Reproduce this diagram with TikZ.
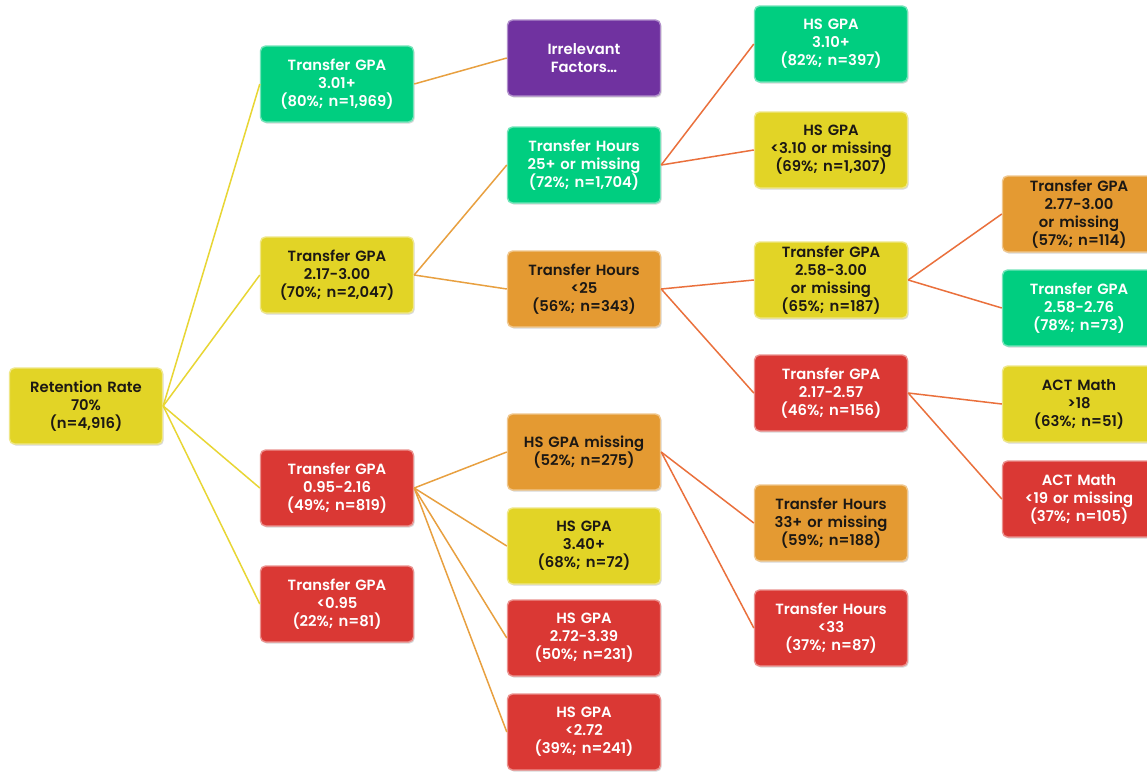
\documentclass[tikz,border=0pt]{standalone}
\usepackage{fontspec}
\newfontfamily\boxfont{Poppins}[UprightFont=* SemiBold, WordSpace=1.4]
\usetikzlibrary{shadows}
\definecolor{cgreen}{RGB}{0,206,128}
\definecolor{cyellow}{RGB}{226,212,38}
\definecolor{corange}{RGB}{228,154,50}
\definecolor{cred}{RGB}{218,56,52}
\definecolor{cpurple}{RGB}{112,50,160}
\definecolor{ctext}{RGB}{28,24,20}
\definecolor{lineA}{RGB}{232,214,52}
\definecolor{lineB}{RGB}{232,160,64}
\definecolor{lineC}{RGB}{234,112,60}
\tikzset{
  box/.style={rounded corners=5pt, minimum width=153pt, minimum height=76pt,
    inner sep=0pt, align=center, font=\boxfont\fontsize{14.8}{18}\selectfont,
    fill=#1, draw=#1!55!white, line width=1.4pt,
    drop shadow={shadow xshift=1.2pt, shadow yshift=-1.5pt, opacity=0.25, fill=black!60}},
  gbox/.style={box=cgreen, text=white},
  ybox/.style={box=cyellow, text=ctext},
  obox/.style={box=corange, text=ctext},
  rbox/.style={box=cred, text=white},
  pbox/.style={box=cpurple, text=white},
  linkA/.style={draw=lineA, line width=1.5pt},
  linkB/.style={draw=lineB, line width=1.5pt},
  linkC/.style={draw=lineC, line width=1.5pt},
}
\begin{document}
\begin{tikzpicture}[x=1pt, y=-1pt]
\useasboundingbox (0,0) rectangle (1147,771);
\clip (0,0) rectangle (1147,771);
\fill[white] (0,0) rectangle (1147,771);

% root
\node[ybox] (root) at (86,406) {Retention Rate\\70\%\\(n=4,916)};

% first split
\node[gbox] (t1) at (337,84)  {Transfer GPA\\3.01+\\(80\%; n=1,969)};
\node[ybox] (t2) at (337,275) {Transfer GPA\\2.17-3.00\\(70\%; n=2,047)};
\node[rbox] (t3) at (337,488) {Transfer GPA\\0.95-2.16\\(49\%; n=819)};
\node[rbox] (t4) at (337,604) {Transfer GPA\\<0.95\\(22\%; n=81)};

% second split
\node[pbox] (irr) at (584,58)  {Irrelevant\\Factors\dots};
\node[gbox] (h1)  at (584,165) {Transfer Hours\\25+ or missing\\(72\%; n=1,704)};
\node[obox] (h2)  at (584,289) {Transfer Hours\\<25\\(56\%; n=343)};
\node[obox] (g1)  at (584,452) {HS GPA missing\\(52\%; n=275)};
\node[ybox] (g2)  at (584,546) {HS GPA\\3.40+\\(68\%; n=72)};
\node[rbox] (g3)  at (584,638) {HS GPA\\2.72-3.39\\(50\%; n=231)};
\node[rbox] (g4)  at (584,732) {HS GPA\\<2.72\\(39\%; n=241)};

% third split
\node[gbox] (s1) at (831,44)  {HS GPA\\3.10+\\(82\%; n=397)};
\node[ybox] (s2) at (831,150) {HS GPA\\<3.10 or missing\\(69\%; n=1,307)};
\node[ybox] (s3) at (831,280) {Transfer GPA\\2.58-3.00\\or missing\\(65\%; n=187)};
\node[rbox] (s4) at (831,393) {Transfer GPA\\2.17-2.57\\(46\%; n=156)};
\node[obox] (s5) at (831,523) {Transfer Hours\\33+ or missing\\(59\%; n=188)};
\node[rbox] (s6) at (831,628) {Transfer Hours\\<33\\(37\%; n=87)};

% fourth split
\node[obox] (f1) at (1079,214) {Transfer GPA\\2.77-3.00\\or missing\\(57\%; n=114)};
\node[gbox] (f2) at (1079,308) {Transfer GPA\\2.58-2.76\\(78\%; n=73)};
\node[ybox] (f3) at (1079,404) {ACT Math\\>18\\(63\%; n=51)};
\node[rbox] (f4) at (1079,499) {ACT Math\\<19 or missing\\(37\%; n=105)};

% connectors
\foreach \c in {t1,t2,t3,t4} \draw[linkA] (root.east) -- (\c.west);
\draw[linkB] (t1.east) -- (irr.west);
\foreach \c in {h1,h2} \draw[linkB] (t2.east) -- (\c.west);
\foreach \c in {g1,g2,g3,g4} \draw[linkB] (t3.east) -- (\c.west);
\foreach \c in {s1,s2} \draw[linkC] (h1.east) -- (\c.west);
\foreach \c in {s3,s4} \draw[linkC] (h2.east) -- (\c.west);
\foreach \c in {s5,s6} \draw[linkC] (g1.east) -- (\c.west);
\foreach \c in {f1,f2} \draw[linkC] (s3.east) -- (\c.west);
\foreach \c in {f3,f4} \draw[linkC] (s4.east) -- (\c.west);
\end{tikzpicture}
\end{document}
